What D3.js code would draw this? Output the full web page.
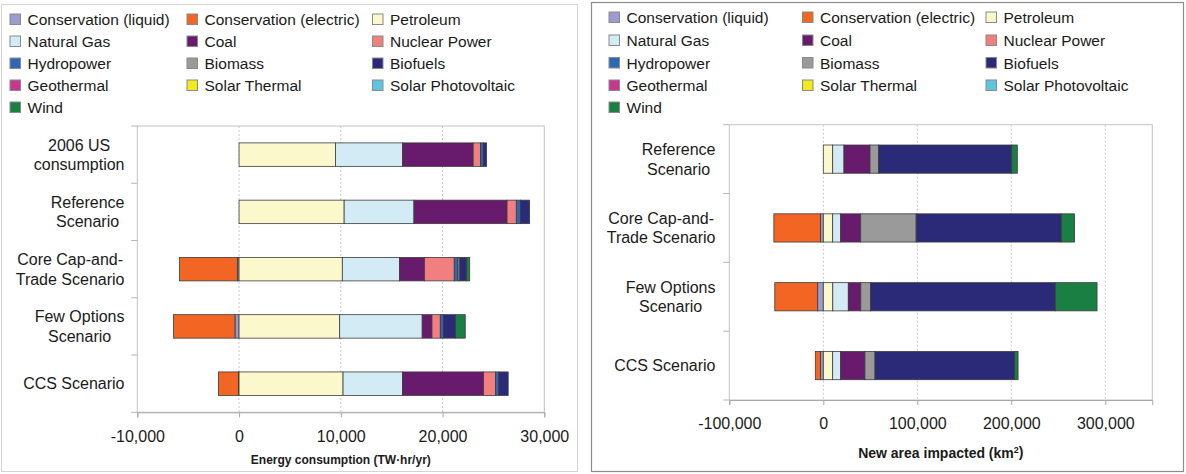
<!DOCTYPE html>
<html>
<head>
<meta charset="utf-8">
<script src="https://cdn.jsdelivr.net/npm/d3@7"></script>
<style>
  html, body { margin: 0; padding: 0; background: #fff; }
  svg { display: block; font-family: "Liberation Sans", Arial, sans-serif; }
</style>
</head>
<body>
<svg id="chart" width="1186" height="474"></svg>
<script>
// ---- series definitions (stack order) ----
const seriesKeys = ["consLiquid", "consElectric", "petroleum", "naturalGas", "coal", "nuclear",
  "hydro", "biomass", "biofuels", "geothermal", "solarThermal", "solarPV", "wind"];
const seriesNames = ["Conservation (liquid)", "Conservation (electric)", "Petroleum",
  "Natural Gas", "Coal", "Nuclear Power", "Hydropower", "Biomass", "Biofuels",
  "Geothermal", "Solar Thermal", "Solar Photovoltaic", "Wind"];
const seriesColors = ["#9d9bd0", "#f26522", "#fbf8cc", "#d2ebf5", "#681a6c", "#f27f7f",
  "#2f68b2", "#9a9a9a", "#2b2a78", "#c8378f", "#f2ea1c", "#5cc6df", "#1a7f43"];

// ---- energy consumption (TW·hr/yr) ----
const energyCategories = ["2006 US consumption", "Reference Scenario", "Core Cap-and-Trade Scenario",
  "Few Options Scenario", "CCS Scenario"];
const energyLabelLines = [["2006 US", "consumption"], ["Reference", "Scenario"],
  ["Core Cap-and-", "Trade Scenario"], ["Few Options", "Scenario"], ["CCS Scenario"]];
const energyConsLiquid   = [0, 0, -150, -400, -60];
const energyConsElectric = [0, 0, -5700, -6040, -1960];
const energyPetroleum    = [9480, 10330, 10150, 9890, 10220];
const energyNaturalGas   = [6600, 6860, 5630, 8110, 5850];
const energyCoal         = [6930, 9150, 2440, 960, 7960];
const energyNuclear      = [730, 910, 2930, 820, 1190];
const energyHydro        = [260, 400, 370, 300, 300];
const energyBiomass      = [0, 0, 180, 0, 0];
const energyBiofuels     = [330, 910, 670, 1190, 930];
const energyGeothermal   = [0, 0, 0, 0, 0];
const energySolarThermal = [0, 0, 0, 0, 0];
const energySolarPV      = [0, 0, 0, 0, 0];
const energyWind         = [0, 0, 300, 960, 0];
const energyTicks = [-10000, 0, 10000, 20000, 30000];

// ---- new area impacted (km²) ----
const areaCategories = ["Reference Scenario", "Core Cap-and-Trade Scenario",
  "Few Options Scenario", "CCS Scenario"];
const areaLabelLines = [["Reference", "Scenario"], ["Core Cap-and-", "Trade Scenario"],
  ["Few Options", "Scenario"], ["CCS Scenario"]];
const areaConsLiquid   = [0, -3000, -6000, -3000];
const areaConsElectric = [0, -49600, -45600, -5500];
const areaPetroleum    = [10000, 10000, 10100, 10000];
const areaNaturalGas   = [12000, 8500, 16500, 8500];
const areaCoal         = [27700, 21300, 13300, 25800];
const areaNuclear      = [0, 0, 0, 0];
const areaHydro        = [0, 0, 0, 0];
const areaBiomass      = [9200, 59000, 10500, 10700];
const areaBiofuels     = [141500, 154400, 196400, 148600];
const areaGeothermal   = [0, 0, 0, 0];
const areaSolarThermal = [0, 0, 0, 0];
const areaSolarPV      = [0, 0, 0, 0];
const areaWind         = [6000, 14100, 44400, 3600];
const areaTicks = [-100000, 0, 100000, 200000, 300000];

function buildRows(categories, cols) {
  return categories.map((c, i) => {
    const row = { category: c };
    seriesKeys.forEach((k, j) => { row[k] = cols[j][i]; });
    return row;
  });
}

const energyRows = buildRows(energyCategories, [energyConsLiquid, energyConsElectric, energyPetroleum,
  energyNaturalGas, energyCoal, energyNuclear, energyHydro, energyBiomass, energyBiofuels,
  energyGeothermal, energySolarThermal, energySolarPV, energyWind]);
const areaRows = buildRows(areaCategories, [areaConsLiquid, areaConsElectric, areaPetroleum,
  areaNaturalGas, areaCoal, areaNuclear, areaHydro, areaBiomass, areaBiofuels,
  areaGeothermal, areaSolarThermal, areaSolarPV, areaWind]);

const svg = d3.select("#chart");
const fmt = d3.formatLocale({ decimal: ".", thousands: ",", grouping: [3], currency: ["$", ""], minus: "-" }).format(",");
const color = d3.scaleOrdinal().domain(seriesKeys).range(seriesColors);

// ---- panel frames ----
svg.append("rect").attr("x", 1.5).attr("y", 4.5).attr("width", 576).attr("height", 467)
  .attr("fill", "none").attr("stroke", "#d4d4d4").attr("stroke-width", 1);
svg.append("rect").attr("x", 591.5).attr("y", 2.5).attr("width", 592).attr("height", 469)
  .attr("fill", "none").attr("stroke", "#8c8c8c").attr("stroke-width", 1.2);

function drawLegend(g, colX, rowY) {
  seriesKeys.forEach((k, i) => {
    const col = i % 3, row = Math.floor(i / 3);
    const item = g.append("g").attr("transform", `translate(${colX[col]},${rowY[row]})`);
    item.append("rect").attr("x", -17.5).attr("y", -5.5).attr("width", 10.5).attr("height", 10.5)
      .attr("fill", color(k)).attr("stroke", "#8a8a8a").attr("stroke-width", 1);
    item.append("text").attr("x", 0).attr("y", 0).attr("dy", "0.36em")
      .attr("font-size", 15.5).attr("fill", "#1a1a1a").text(seriesNames[i]);
  });
}

function drawChart(opts) {
  const { rows, labelLines, domain, ticks, gridValues, x0, x1, y0, y1, labelRight, title, titleY, titleSize } = opts;
  const g = svg.append("g");
  const x = d3.scaleLinear().domain(domain).range([x0, x1]);
  const y = d3.scaleBand().domain(rows.map(d => d.category)).range([y0, y1])
    .paddingInner(0.59).paddingOuter(0.295);
  const step = y.step();

  // plot frame
  g.append("rect").attr("x", x0).attr("y", y0).attr("width", x1 - x0).attr("height", y1 - y0)
    .attr("fill", "#fff").attr("stroke", "#c4c4c4").attr("stroke-width", 1);

  // dashed vertical gridlines
  g.append("g").selectAll("line").data(gridValues).join("line")
    .attr("x1", d => x(d)).attr("x2", d => x(d)).attr("y1", y0).attr("y2", y1)
    .attr("stroke", "#c8c8c8").attr("stroke-dasharray", "2,2").attr("stroke-width", 1);

  // category-boundary ticks on the value-axis side
  g.append("g").selectAll("line").data(d3.range(rows.length + 1)).join("line")
    .attr("x1", x0 - 6).attr("x2", x0).attr("y1", i => y0 + i * step).attr("y2", i => y0 + i * step)
    .attr("stroke", "#b5b5b5");

  // bottom axis
  const axis = g.append("g").attr("transform", `translate(0,${y1})`)
    .call(d3.axisBottom(x).tickValues(ticks).tickSize(5).tickPadding(13).tickFormat(fmt));
  axis.select(".domain").attr("stroke", "#a8a8a8");
  axis.selectAll(".tick line").attr("stroke", "#a8a8a8");
  axis.selectAll(".tick text").attr("font-size", 16).attr("fill", "#1a1a1a")
    .attr("font-family", "'Liberation Sans', Arial, sans-serif");

  // stacked bars
  const stack = d3.stack().keys(seriesKeys).offset(d3.stackOffsetDiverging);
  const layers = stack(rows);
  g.append("g").selectAll("g").data(layers).join("g")
    .attr("fill", d => color(d.key))
    .selectAll("rect").data(d => d.filter(s => s[1] !== s[0])).join("rect")
    .attr("x", d => x(Math.min(d[0], d[1])))
    .attr("width", d => Math.abs(x(d[1]) - x(d[0])))
    .attr("y", d => y(d.data.category))
    .attr("height", y.bandwidth())
    .attr("stroke", "#3c3c3c").attr("stroke-width", 0.8);

  // category labels: lines centred on each other, block right-aligned
  rows.forEach((r, i) => {
    const lines = labelLines[i];
    const cy = y(r.category) + y.bandwidth() / 2;
    const t = g.append("text").attr("font-size", 16).attr("fill", "#1a1a1a").attr("text-anchor", "middle");
    const spans = lines.map((ln, j) => t.append("tspan")
      .attr("y", cy + (j - (lines.length - 1) / 2) * 19.5).attr("dy", "0.36em").text(ln));
    const maxW = d3.max(spans, s => s.node().getComputedTextLength());
    spans.forEach(s => s.attr("x", labelRight - maxW / 2));
  });

  // axis title
  const tt = g.append("text").attr("x", (x0 + x1) / 2).attr("y", titleY).attr("dy", "0.36em")
    .attr("text-anchor", "middle").attr("font-size", titleSize).attr("font-weight", "bold")
    .attr("fill", "#1a1a1a");
  title(tt);
}

// left panel
drawLegend(svg.append("g"), [27.5, 204.5, 390], [19.5, 41.5, 63.5, 85.5, 107.5]);
drawChart({
  rows: energyRows, labelLines: energyLabelLines,
  domain: [-10000, 30000], ticks: energyTicks, gridValues: [0, 10000, 20000],
  x0: 137.3, x1: 544.3, y0: 126, y1: 412.3, labelRight: 124.5,
  titleY: 460, titleSize: 12,
  title: t => t.text("Energy consumption (TW·hr/yr)")
});

// right panel
drawLegend(svg.append("g"), [626.5, 820, 1003.5], [17.5, 40.5, 63, 85.5, 107.5]);
drawChart({
  rows: areaRows, labelLines: areaLabelLines,
  domain: [-100000, 350000], ticks: areaTicks, gridValues: [0, 100000, 200000, 300000],
  x0: 729.3, x1: 1152.3, y0: 124.7, y1: 400, labelRight: 715.5,
  titleY: 453, titleSize: 14,
  title: t => {
    t.append("tspan").text("New area impacted (km");
    t.append("tspan").attr("font-size", 9).attr("dy", "-0.6em").text("2");
    t.append("tspan").attr("dy", "0.3em").text(")");
  }
});
</script>
</body>
</html>
